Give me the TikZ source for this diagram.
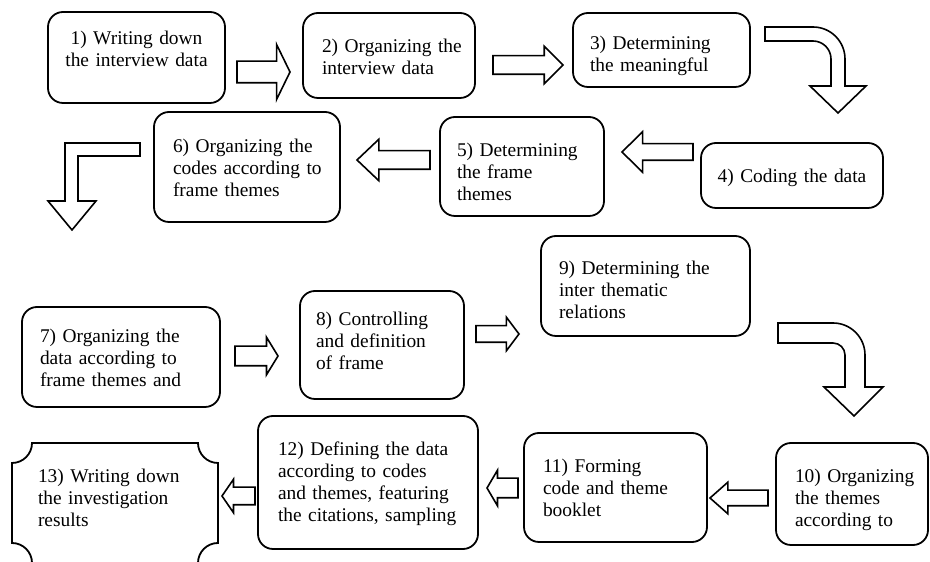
\documentclass[tikz,border=0pt]{standalone}
\usepackage{fontspec}
\setmainfont{Liberation Serif}
\usetikzlibrary{shapes.arrows, calc}
\newcommand{\stagetext}[1]{\begin{tabular}[t]{@{}l@{}}#1\end{tabular}}

\begin{document}
\begin{tikzpicture}[
    x=1pt, y=1pt,
    every node/.style={font=\fontsize{19.4}{22}\selectfont},
    stage/.style={draw, line width=1.8pt, rounded corners=15pt, anchor=north west, inner ysep=0pt, outer sep=0pt},
    blockarrow/.style={draw, line width=1.6pt, single arrow, single arrow head indent=0pt, inner xsep=0pt, outer sep=0pt, anchor=tail},
    bentarrow/.style={draw, line width=1.6pt, line join=miter}
]
\useasboundingbox (0,0) rectangle (930,562);

% Nodes
\node[stage, align=center, text width=177pt, inner xsep=0pt, text height=33pt, text depth=58pt] (b1) at (48,550) {1) Writing down\\ the interview data};
\node[stage, text width=134pt, inner xsep=19pt, text height=40pt, text depth=45pt] (b2) at (303,549) {\stagetext{2) Organizing the\\ interview data}};
\node[stage, text width=143pt, inner xsep=17pt, text height=37pt, text depth=37pt] (b3) at (573,549) {\stagetext{3) Determining\\ the meaningful}};
\node[stage, align=center, text width=182pt, inner xsep=0pt, text height=40pt, text depth=25pt] (b4) at (701,419) {4) Coding the data};
\node[stage, text width=130pt, inner xsep=17pt, text height=40pt, text depth=59pt] (b5) at (440,445) {\stagetext{5) Determining\\ the frame\\ themes}};
\node[stage, text width=148pt, inner xsep=19pt, text height=41pt, text depth=69pt] (b6) at (154,450) {\stagetext{6) Organizing the\\ codes according to\\ frame themes}};
\node[stage, text width=162pt, inner xsep=18pt, text height=36pt, text depth=64pt] (b7) at (22,255) {\parbox[t]{143pt}{7) Organizing the\linebreak data according to\linebreak frame themes and}};
\node[stage, text width=132pt, inner xsep=16pt, text height=35pt, text depth=73pt] (b8) at (300,271) {\stagetext{8) Controlling\\ and definition\\ of frame}};
\node[stage, text width=173pt, inner xsep=18pt, text height=39pt, text depth=61pt] (b9) at (541,326) {\stagetext{9) Determining the\\ inter thematic\\ relations}};
\node[stage, text width=114pt, inner xsep=19pt, text height=40pt, text depth=62pt] (b10) at (776,119) {\stagetext{10) Organizing\\ the themes\\ according to}};
\node[stage, text width=145pt, inner xsep=19pt, text height=40pt, text depth=69pt] (b11) at (524,129) {\stagetext{11) Forming\\ code and theme\\ booklet}};
\node[stage, text width=180pt, inner xsep=20pt, text height=40pt, text depth=93pt] (b12) at (258,146) {\stagetext{12) Defining the data\\ according to codes\\ and themes, featuring\\ the citations, sampling}};
\node[stage, draw=none, text width=154pt, inner xsep=26pt, text height=40pt, text depth=80pt] (b13) at (12,119) {\stagetext{13) Writing down\\ the investigation\\ results}};
\draw[line width=1.8pt] ([xshift=20pt]b13.north west) -- ([xshift=-20pt]b13.north east)
  arc[start angle=180, end angle=270, radius=20pt] -- ([yshift=20pt]b13.south east)
  arc[start angle=90, end angle=180, radius=20pt] -- ([xshift=20pt]b13.south west)
  arc[start angle=0, end angle=90, radius=20pt] -- ([yshift=-20pt]b13.north west)
  arc[start angle=270, end angle=360, radius=20pt] -- cycle;

% Arrows
\node[blockarrow, minimum height=53pt, inner ysep=10pt, single arrow head extend=16.5pt, single arrow tip angle=128] (a12) at (237,490) {};
\node[blockarrow, minimum height=70pt, inner ysep=8.5pt, single arrow head extend=9.5pt, single arrow tip angle=90] (a23) at (493,497) {};
\draw[bentarrow] (765,535) -- (813,535) arc[start angle=90, end angle=0, radius=32] -- (845,476) -- (866,476) -- (838,449) -- (810,476) -- (831,476) -- (831,503) arc[start angle=0, end angle=90, radius=18] -- (765,521) -- cycle;
\node[blockarrow, shape border rotate=180, minimum height=71pt, inner ysep=7.5pt, single arrow head extend=12pt, single arrow tip angle=89] (a45) at (693,410) {};
\node[blockarrow, shape border rotate=180, minimum height=73pt, inner ysep=8.5pt, single arrow head extend=11.5pt, single arrow tip angle=87] (a56) at (430,402) {};
\draw[bentarrow] (140,419) -- (65,419) -- (65,361) -- (48,361) -- (72,332) -- (96,361) -- (78,361) -- (78,406) -- (140,406) -- cycle;
\node[blockarrow, minimum height=43pt, inner ysep=9pt, single arrow head extend=9pt, single arrow tip angle=117] (a78) at (235,206) {};
\node[blockarrow, minimum height=43pt, inner ysep=7.5pt, single arrow head extend=8.5pt, single arrow tip angle=106] (a89) at (476,228) {};
\draw[bentarrow] (778,239) -- (833,239) arc[start angle=90, end angle=0, radius=32] -- (865,175) -- (883,175) -- (854,146) -- (824,175) -- (845,175) -- (845,207) arc[start angle=0, end angle=90, radius=12] -- (778,219) -- cycle;
\node[blockarrow, shape border rotate=180, minimum height=58pt, inner ysep=7pt, single arrow head extend=8pt, single arrow tip angle=83] (a1011) at (768,64) {};
\node[blockarrow, shape border rotate=180, minimum height=31pt, inner ysep=9pt, single arrow head extend=8pt, single arrow tip angle=119] (a1112) at (518,74) {};
\node[blockarrow, shape border rotate=180, minimum height=33pt, inner ysep=8pt, single arrow head extend=8pt, single arrow tip angle=111] (a1213) at (255,66) {};

\end{tikzpicture}
\end{document}
